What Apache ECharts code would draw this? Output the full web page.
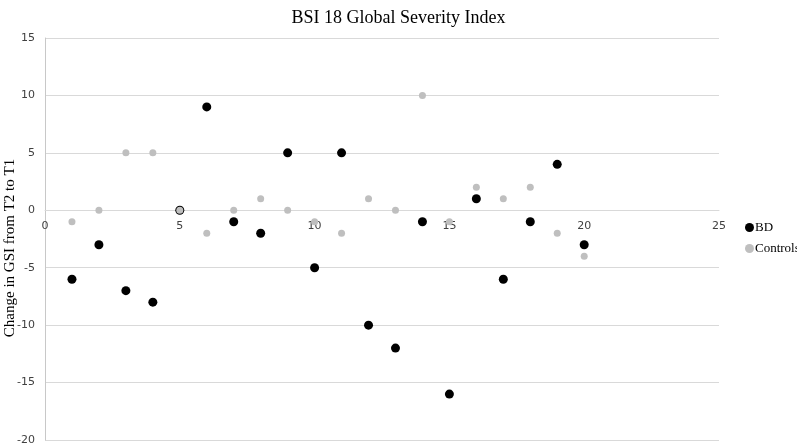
<!DOCTYPE html>
<html>
<head>
<meta charset="utf-8">
<script src="https://cdn.jsdelivr.net/npm/echarts@6/dist/echarts.min.js"></script>
<style>html,body{margin:0;padding:0;background:#fff;}#c{width:797px;height:448px;}</style>
</head>
<body>
<div id="c"></div>
<script>
const participants = [1,2,3,4,5,6,7,8,9,10,11,12,13,14,15,16,17,18,19,20];
const bdValues = [-6,-3,-7,-8,0,9,-1,-2,5,-5,5,-10,-12,-1,-16,1,-6,-1,4,-3];
const controlValues = [-1,0,5,5,0,-2,0,1,0,-1,-2,1,0,10,-1,2,1,2,-2,-4];
const xTicks = [0,5,10,15,20,25];
const yTicks = [-20,-15,-10,-5,0,5,10,15];

const chart = echarts.init(document.getElementById('c'));
chart.setOption({
  animation: false,
  backgroundColor: '#fff',
  title: {
    text: 'BSI 18 Global Severity Index',
    left: 'center', top: 4,
    textStyle: {fontFamily: 'Liberation Serif', fontSize: 18, fontWeight: 'normal', color: '#000'}
  },
  legend: {
    orient: 'vertical', left: 745, top: 221, itemGap: 8, padding: 0,
    itemWidth: 9, itemHeight: 9,
    textStyle: {fontFamily: 'Liberation Serif', fontSize: 13, color: '#000', padding: [0,0,0,-4], overflow: 'none'},
    data: [{name: 'BD', icon: 'circle'}, {name: 'Controls', icon: 'circle'}]
  },
  grid: {left: 45, right: 78, top: 38, bottom: 8, outerBoundsMode: 'none', containLabel: false},
  xAxis: {
    type: 'value', min: xTicks[0], max: xTicks[xTicks.length-1], interval: 5,
    axisLine: {onZero: false, lineStyle: {color: '#d9d9d9', width: 1}},
    axisTick: {show: false},
    splitLine: {show: false},
    axisLabel: {fontFamily: 'DejaVu Sans', fontSize: 11, color: '#404040', margin: 10}
  },
  yAxis: {
    type: 'value', min: yTicks[0], max: yTicks[yTicks.length-1], interval: 5,
    name: 'Change in GSI from T2 to T1', nameLocation: 'middle', nameGap: 27, nameMoveOverlap: false,
    nameTextStyle: {fontFamily: 'Liberation Serif', fontSize: 15, color: '#000', padding: [0, 18, 0, 0]},
    axisLine: {show: true, onZero: false, lineStyle: {color: '#c8c8c8', width: 1}},
    axisTick: {show: false},
    splitLine: {show: true, lineStyle: {color: '#d9d9d9', width: 1}},
    axisLabel: {fontFamily: 'DejaVu Sans', fontSize: 11, color: '#404040', margin: 10}
  },
  series: [
    {
      name: 'BD', type: 'scatter', symbol: 'circle', symbolSize: 9,
      itemStyle: {color: '#000', opacity: 1},
      data: participants.map((p, i) => [p, bdValues[i]])
    },
    {
      name: 'Controls', type: 'scatter', symbol: 'circle', symbolSize: 7,
      itemStyle: {color: '#bfbfbf', opacity: 1},
      data: participants.map((p, i) => [p, controlValues[i]])
    }
  ]
});
// place the x axis on y = 0 using the library's own scale
const yZero = chart.convertToPixel({yAxisIndex: 0}, 0);
const yBottom = chart.convertToPixel({yAxisIndex: 0}, yTicks[0]);
chart.setOption({xAxis: {offset: yZero - yBottom}});
</script>
</body>
</html>
